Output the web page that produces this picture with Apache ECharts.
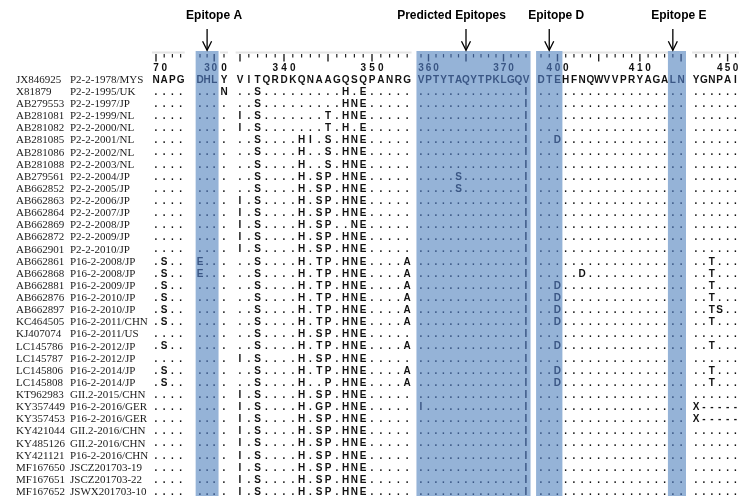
<!DOCTYPE html>
<html>
<head>
<meta charset="utf-8">
<script src="https://cdn.jsdelivr.net/npm/echarts@6/dist/echarts.min.js"></script>
<style>
  html, body { margin: 0; padding: 0; background: #ffffff; }
  #chart { width: 739px; height: 496px; }
</style>
</head>
<body>
<div id="chart"></div>
<script>
// ---- Alignment data -------------------------------------------------------
// First residue number of each aligned region and the reference residues
const blockStarts = [270, 298, 301, 335, 359, 398, 446];
const refSegments = ['NAPG', 'DHL', 'Y', 'VITQRDKQNAAGQSQPANRG', 'VPTYTAQYTPKLGQV', 'DTEHFNQWVVPRYAGALN', 'YGNPAI'];

// Highlighted epitope regions (residue ranges) and the residue each arrow marks
const epitopeNames = ['Epitope A', 'Predicted Epitopes', 'Epitope D', 'Epitope E'];
const epitopeRanges = [[298, 300], [359, 373], [398, 400], [414, 415]];
const epitopeArrowAt = [299, 365, 399, 414];

const accessions = ['JX846925', 'X81879', 'AB279553', 'AB281081', 'AB281082', 'AB281085', 'AB281086',
  'AB281088', 'AB279561', 'AB662852', 'AB662863', 'AB662864', 'AB662869', 'AB662872', 'AB662901',
  'AB662861', 'AB662868', 'AB662881', 'AB662876', 'AB662897', 'KC464505', 'KJ407074', 'LC145786',
  'LC145787', 'LC145806', 'LC145808', 'KT962983', 'KY357449', 'KY357453', 'KY421044', 'KY485126',
  'KY421121', 'MF167650', 'MF167651', 'MF167652'];
const strains = ['P2-2-1978/MYS', 'P2-2-1995/UK', 'P2-2-1997/JP', 'P2-2-1999/NL', 'P2-2-2000/NL',
  'P2-2-2001/NL', 'P2-2-2002/NL', 'P2-2-2003/NL', 'P2-2-2004/JP', 'P2-2-2005/JP', 'P2-2-2006/JP',
  'P2-2-2007/JP', 'P2-2-2008/JP', 'P2-2-2009/JP', 'P2-2-2010/JP', 'P16-2-2008/JP', 'P16-2-2008/JP',
  'P16-2-2009/JP', 'P16-2-2010/JP', 'P16-2-2010/JP', 'P16-2-2011/CHN', 'P16-2-2011/US',
  'P16-2-2012/JP', 'P16-2-2012/JP', 'P16-2-2014/JP', 'P16-2-2014/JP', 'GII.2-2015/CHN',
  'P16-2-2016/GER', 'P16-2-2016/GER', 'GII.2-2016/CHN', 'GII.2-2016/CHN', 'P16-2-2016/CHN',
  'JSCZ201703-19', 'JSCZ201703-22', 'JSWX201703-10'];

// Sequences after the reference, regions separated by spaces ('.' = same as reference)
const variants = [
  '.... ... N ..S.........H.E..... ..............I .................. ......',
  '.... ... . ..S.........HNE..... ..............I .................. ......',
  '.... ... . I.S.......T.HNE..... ..............I .................. ......',
  '.... ... . I.S.......T.H.E..... ..............I .................. ......',
  '.... ... . ..S....HI.S.HNE..... ..............I ..D............... ......',
  '.... ... . ..S....H..S.HNE..... ..............I .................. ......',
  '.... ... . ..S....H..S.HNE..... ..............I .................. ......',
  '.... ... . ..S....H.SP.HNE..... .....S........I .................. ......',
  '.... ... . ..S....H.SP.HNE..... .....S........I .................. ......',
  '.... ... . I.S....H.SP.HNE..... ..............I .................. ......',
  '.... ... . I.S....H.SP.HNE..... ..............I .................. ......',
  '.... ... . I.S....H.SP..NE..... ..............I .................. ......',
  '.... ... . I.S....H.SP.HNE..... ..............I .................. ......',
  '.... ... . I.S....H.SP.HNE..... ..............I .................. ......',
  '.S.. E.. . ..S....H.TP.HNE....A ..............I .................. ..T...',
  '.S.. E.. . ..S....H.TP.HNE....A ..............I .....D............ ..T...',
  '.S.. ... . ..S....H.TP.HNE....A ..............I ..D............... ..T...',
  '.S.. ... . ..S....H.TP.HNE....A ..............I ..D............... ..T...',
  '.S.. ... . ..S....H.TP.HNE....A ..............I ..D............... ..TS..',
  '.S.. ... . ..S....H.TP.HNE....A ..............I ..D............... ..T...',
  '.... ... . ..S....H.SP.HNE..... ..............I .................. ......',
  '.S.. ... . ..S....H.TP.HNE....A ..............I ..D............... ..T...',
  '.... ... . I.S....H.SP.HNE..... ..............I .................. ......',
  '.S.. ... . ..S....H.TP.HNE....A ..............I ..D............... ..T...',
  '.S.. ... . ..S....H..P.HNE....A ..............I ..D............... ..T...',
  '.... ... . I.S....H.SP.HNE..... ..............I .................. ......',
  '.... ... . I.S....H.GP.HNE..... I.............I .................. X-----',
  '.... ... . I.S....H.SP.HNE..... ..............I .................. X-----',
  '.... ... . I.S....H.SP.HNE..... ..............I .................. ......',
  '.... ... . I.S....H.SP.HNE..... ..............I .................. ......',
  '.... ... . I.S....H.SP.HNE..... ..............I .................. ......',
  '.... ... . I.S....H.SP.HNE..... ..............I .................. ......',
  '.... ... . I.S....H.SP.HNE..... ..............I .................. ......',
  '.... ... . I.S....H.SP.HNE..... ..............I .................. ......'
];

// ---- Layout -----------------------------------------------------------------
const blockLeft = [156, 200, 224, 240, 421, 541, 696];   // centre of first column
const blockPitch = [8.2, 7.1, 8, 8.8, 7.5, 8.24, 7.9];   // column width
const titleShift = [7, -14.5, 7, 6];
const Y = {                 // vertical positions in row units (row 0 = reference)
  title: -5.28, arrowTop: -4.2, arrowTip: -2.45, bandTop: -2.39, rule: -2.27,
  tickTop: -2.14, tickBar: -1.53, tickDot: -1.86, numbers: -0.95, min: -6.6, max: 34.32
};
const BAND = '#95b3d7';
const BAND_INK = '#3a5684';
const INK = '#111111';
const SEQ_FONT = 'bold 10px "Liberation Sans", Arial, sans-serif';
const NAME_FONT = '11px "Liberation Serif", "Times New Roman", serif';

function blockOf(pos) {
  for (let b = 0; b < blockStarts.length; b++) {
    if (pos >= blockStarts[b] && pos < blockStarts[b] + refSegments[b].length) return b;
  }
  return -1;
}
function colX(pos) {
  const b = blockOf(pos);
  return blockLeft[b] + (pos - blockStarts[b]) * blockPitch[b];
}
function inBand(pos) {
  return epitopeRanges.some(r => pos >= r[0] && pos <= r[1]);
}

// Residue cells: reference row plus every variant row
const cells = [];
const allRows = [refSegments.join(' ')].concat(variants);
allRows.forEach((row, r) => {
  row.split(' ').forEach((seg, b) => {
    for (let i = 0; i < seg.length; i++) {
      const pos = blockStarts[b] + i;
      cells.push({ x: colX(pos), row: r, ch: seg[i], band: inBand(pos) });
    }
  });
});

// Ruler ticks and position numbers
const ticks = [];
const digits = [];
blockStarts.forEach((start, b) => {
  for (let i = 0; i < refSegments[b].length; i++) {
    const pos = start + i;
    ticks.push({ x: colX(pos), major: pos % 5 === 0, band: inBand(pos) });
    if (pos % 10 === 0) {
      const s = String(pos);
      [pos - 1, pos, pos + 1].forEach((p, k) => {
        if (blockOf(p) >= 0) digits.push({ x: colX(p), row: Y.numbers, ch: s[k], band: inBand(p) });
      });
    }
  }
});

// Light rule across the top of each region
const rules = blockStarts.map((start, b) => [
  colX(start) - blockPitch[b] / 2, colX(start + refSegments[b].length - 1) + blockPitch[b] / 2
]);

// Epitope highlight bands
const bands = epitopeRanges.map(r => {
  const b0 = blockOf(r[0]), b1 = blockOf(r[1]);
  return [colX(r[0]) - blockPitch[b0] / 2 - 0.8, colX(r[1]) + blockPitch[b1] / 2 + 0.8];
});

const chart = echarts.init(document.getElementById('chart'), null, { renderer: 'canvas' });

function textItem(p, text, font, fill, align) {
  return {
    type: 'text', x: p[0], y: p[1],
    style: { text: text, font: font, fill: fill, align: align || 'center', verticalAlign: 'middle' }
  };
}

chart.setOption({
  animation: false,
  grid: { left: 0, right: 0, top: 0, bottom: 0 },
  xAxis: { type: 'value', min: 0, max: 739, show: false },
  yAxis: { type: 'value', min: Y.min, max: Y.max, inverse: true, show: false },
  series: [
    {
      type: 'custom', name: 'rules', silent: true, z: 1,
      data: rules,
      renderItem: (params, api) => {
        const a = api.coord([api.value(0), Y.rule]);
        const b = api.coord([api.value(1), Y.rule]);
        return { type: 'line', shape: { x1: a[0], y1: a[1], x2: b[0], y2: b[1] },
          style: { stroke: '#e4e4e4', lineWidth: 2 } };
      }
    },
    {
      type: 'custom', name: 'bands', silent: true, z: 2,
      data: bands,
      renderItem: (params, api) => {
        const a = api.coord([api.value(0), Y.bandTop]);
        const b = api.coord([api.value(1), Y.max]);
        return { type: 'rect', shape: { x: a[0], y: a[1], width: b[0] - a[0], height: b[1] - a[1] },
          style: { fill: BAND } };
      }
    },
    {
      type: 'custom', name: 'ruler', silent: true, z: 3,
      data: ticks.map(t => [t.x, Y.tickTop]),
      renderItem: (params, api) => {
        const t = ticks[params.dataIndex];
        const a = api.coord([t.x, Y.tickTop]);
        const b = api.coord([t.x, t.major ? Y.tickBar : Y.tickDot]);
        return { type: 'line', shape: { x1: a[0], y1: a[1], x2: b[0], y2: b[1] },
          style: { stroke: t.band ? BAND_INK : '#222', lineWidth: t.major ? 1.4 : 1.2 } };
      }
    },
    {
      type: 'custom', name: 'numbers', silent: true, z: 3,
      data: digits.map(d => [d.x, d.row]),
      renderItem: (params, api) => {
        const d = digits[params.dataIndex];
        return textItem(api.coord([d.x, d.row]), d.ch, SEQ_FONT, d.band ? BAND_INK : INK);
      }
    },
    {
      type: 'custom', name: 'residues', silent: true, z: 4,
      data: cells.map(c => [c.x, c.row]),
      renderItem: (params, api) => {
        const c = cells[params.dataIndex];
        return textItem(api.coord([c.x, c.row]), c.ch, SEQ_FONT, c.band ? BAND_INK : INK);
      }
    },
    {
      type: 'custom', name: 'names', silent: true, z: 4,
      data: accessions.map((a, i) => [16, i]),
      renderItem: (params, api) => {
        const i = params.dataIndex;
        const p1 = api.coord([16, i]);
        const p2 = api.coord([70, i]);
        return { type: 'group', children: [
          textItem(p1, accessions[i], NAME_FONT, '#1a1a1a', 'left'),
          textItem(p2, strains[i], NAME_FONT, '#1a1a1a', 'left')
        ] };
      }
    },
    {
      type: 'custom', name: 'epitopes', silent: true, z: 5,
      data: epitopeArrowAt.map(p => [colX(p), Y.arrowTop]),
      renderItem: (params, api) => {
        const i = params.dataIndex;
        const x = colX(epitopeArrowAt[i]);
        const top = api.coord([x, Y.arrowTop]);
        const tip = api.coord([x, Y.arrowTip]);
        const title = api.coord([x + titleShift[i], Y.title]);
        return { type: 'group', children: [
          textItem(title, epitopeNames[i], 'bold 12px "Liberation Sans", Arial, sans-serif', '#000'),
          { type: 'line', shape: { x1: top[0], y1: top[1], x2: tip[0], y2: tip[1] },
            style: { stroke: '#000', lineWidth: 1.3 } },
          { type: 'polyline', shape: { points: [[tip[0] - 4.5, tip[1] - 9], [tip[0], tip[1]], [tip[0] + 4.5, tip[1] - 9]] },
            style: { stroke: '#000', lineWidth: 1.3, fill: null } }
        ] };
      }
    }
  ]
});
</script>
</body>
</html>
